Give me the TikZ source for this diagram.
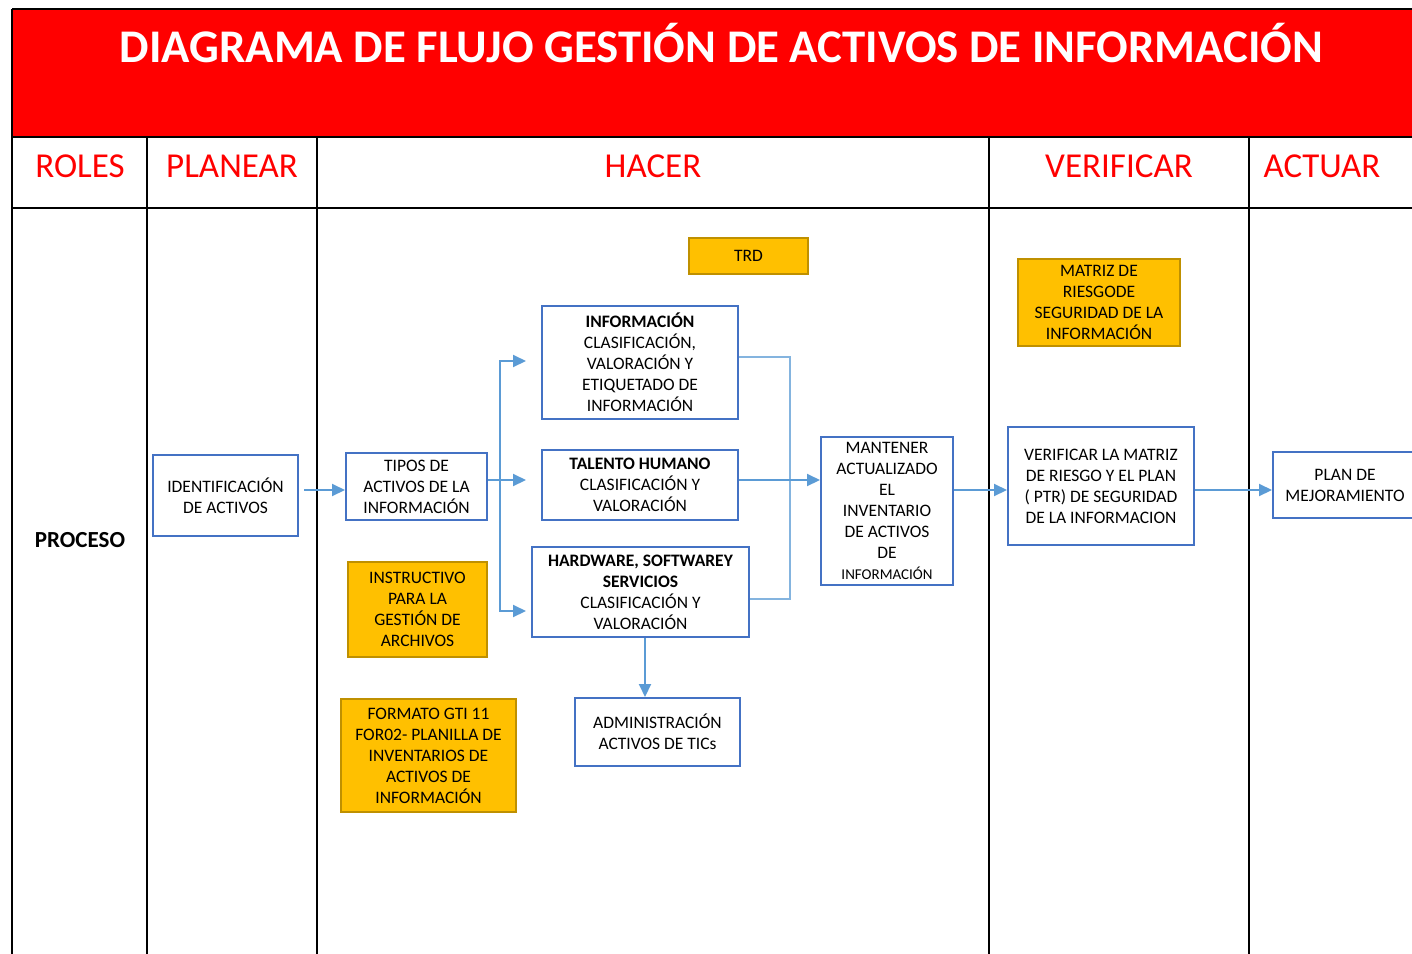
\documentclass[tikz,border=0pt]{standalone}
\usepackage{fontspec}
\setmainfont{Carlito}
\usetikzlibrary{arrows.meta,calc}
\definecolor{boxblue}{RGB}{68,114,196}
\definecolor{arrowblue}{RGB}{91,155,213}
\definecolor{docorange}{RGB}{255,192,0}
\definecolor{docedge}{RGB}{191,144,0}
\tikzset{
  proc/.style={draw=boxblue, line width=2pt, fill=white, align=center, inner sep=0pt,
    font=\fontsize{17.5}{21}\selectfont},
  doc/.style={proc, draw=docedge, fill=docorange},
  head/.style={text=red, font=\fontsize{35}{40}\selectfont},
  flow/.style={draw=arrowblue, line width=2pt, -{Triangle[length=13pt,width=12pt]}},
  link/.style={draw=arrowblue!75, line width=1.2pt},
}
\begin{document}
\begin{tikzpicture}[x=1pt,y=-1pt, line join=miter]
\useasboundingbox (0,0) rectangle (1412,953);
\clip (0,0) rectangle (1412,953);
% table
\fill[red] (12,9) rectangle (1440,137);
\draw[line width=2.5pt] (12,9) -- (1440,9);
\draw[line width=2.5pt] (12,137) -- (1440,137);
\draw[line width=2pt] (12,208) -- (1440,208);
\draw[line width=2pt] (12,9) -- (12,970);
\foreach \x in {147,317,989,1249} {\draw[line width=2pt] (\x,137) -- (\x,970);}
\node[text=white, font=\bfseries\fontsize{46.8}{52}\selectfont] (title) at (721.5,43)
  {DIAGRAMA DE FLUJO GESTIÓN DE ACTIVOS DE INFORMACIÓN};
\foreach \x/\t in {80/ROLES,232/PLANEAR,653/HACER,1119/VERIFICAR,1322/ACTUAR}
  {\node[head] (h\t) at (\x,166) {\t};}
\node[font=\bfseries\fontsize{23}{27}\selectfont] (proceso) at (80,540) {PROCESO};
% boxes
\node[proc, minimum width=145, minimum height=81] (ident) at (225.5,495.5) {IDENTIFICACIÓN\\DE ACTIVOS};
\node[proc, minimum width=141, minimum height=67] (tipos) at (416.5,486.5) {TIPOS DE\\ACTIVOS DE LA\\INFORMACIÓN};
\node[doc, minimum width=139, minimum height=95] (instr) at (417.5,609.5) {INSTRUCTIVO\\PARA LA\\GESTIÓN DE\\ARCHIVOS};
\node[doc, minimum width=175, minimum height=113] (formato) at (428.5,755.5) {FORMATO GTI 11\\FOR02- PLANILLA DE\\INVENTARIOS DE\\ACTIVOS DE\\INFORMACIÓN};
\node[doc, minimum width=119, minimum height=36] (trd) at (748.5,256) {TRD};
\node[proc, minimum width=196, minimum height=113] (info) at (640,362.5) {\textbf{INFORMACIÓN}\\CLASIFICACIÓN,\\VALORACIÓN Y\\ETIQUETADO DE\\INFORMACIÓN};
\node[proc, minimum width=196, minimum height=70] (talento) at (640,485) {\textbf{TALENTO HUMANO}\\CLASIFICACIÓN Y\\VALORACIÓN};
\node[proc, minimum width=217, minimum height=90] (hw) at (640.5,592) {\textbf{HARDWARE, SOFTWAREY}\\\textbf{SERVICIOS}\\CLASIFICACIÓN Y\\VALORACIÓN};
\node[proc, minimum width=165, minimum height=68] (admin) at (657.5,732) {ADMINISTRACIÓN\\ACTIVOS DE TICs};
\node[proc, minimum width=132, minimum height=148] (mant) at (887,511) {MANTENER\\ACTUALIZADO\\EL\\INVENTARIO\\DE ACTIVOS\\DE\\{\fontsize{15}{21}\selectfont INFORMACIÓN}};
\node[doc, minimum width=162, minimum height=87] (matriz) at (1099,302.5) {MATRIZ DE\\RIESGODE\\SEGURIDAD DE LA\\INFORMACIÓN};
\node[proc, minimum width=186, minimum height=118] (verif) at (1101,486) {VERIFICAR LA MATRIZ\\DE RIESGO Y EL PLAN\\( PTR) DE SEGURIDAD\\DE LA INFORMACION};
\node[proc, minimum width=144, minimum height=66] (plan) at (1345,485) {PLAN DE\\MEJORAMIENTO};
% connectors
\coordinate (row) at (0,490);
\draw[flow, shorten <=5pt] (ident.east |- row) -- (tipos.west |- row);
\draw[draw=arrowblue, line width=2pt] ($(tipos.east)+(0,-6.5)$) -- ++(12,0) coordinate (bus);
\draw[flow] (bus) |- ($(info.west)+(-15,-1.5)$);
\draw[flow] (bus) -- ($(bus -| talento.west)+(-15,0)$);
\draw[flow] (bus) |- ($(hw.west)+(-5,19)$);
\draw[link] ($(info.east)+(0,-5.5)$) -| ($(hw.east)+(40,7)$) -- ($(hw.east)+(0,7)$);
\draw[flow] (talento.east |- bus) -- (mant.west |- bus);
\draw[flow] (mant.east |- row) -- (verif.west |- row);
\draw[flow] (verif.east |- row) -- (plan.west |- row);
\draw[flow] ($(hw.south)+(4.5,0)$) -- ($(hw.south |- admin.north)+(4.5,0)$);
\end{tikzpicture}
\end{document}
